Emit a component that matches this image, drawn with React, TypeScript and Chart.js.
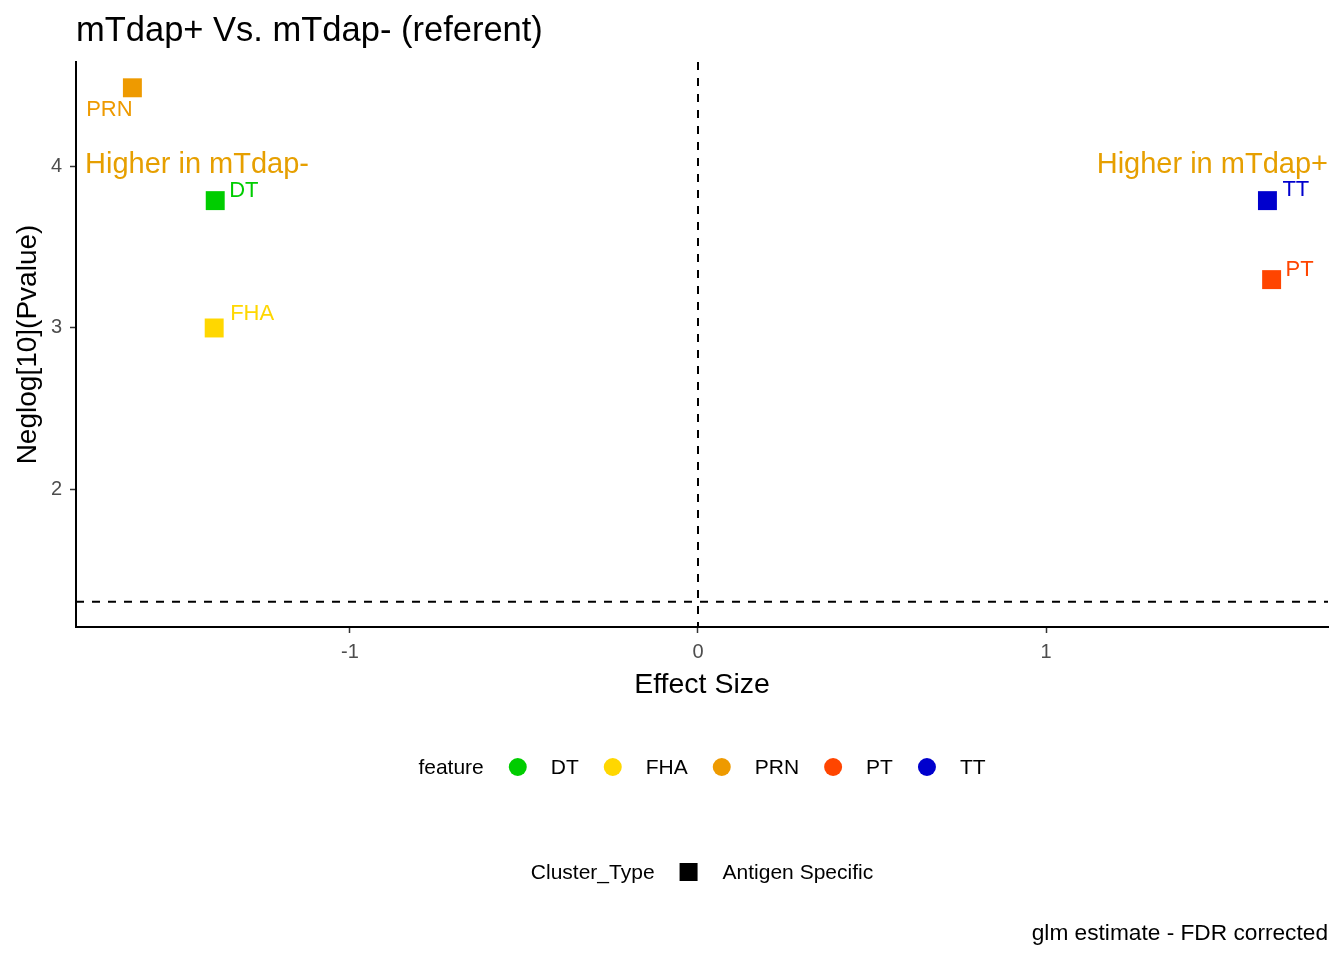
import { useEffect, useRef } from 'react';
import { Chart, registerables } from 'chart.js';
import type { Plugin } from 'chart.js';

Chart.register(...registerables);

// data
const features = ['DT', 'FHA', 'PRN', 'PT', 'TT'];
const effectSize = [-1.387, -1.39, -1.625, 1.648, 1.636];
const negLogP = [3.79, 3.0, 4.49, 3.3, 3.79];
const featureColors = ['#00CD00', '#FFD700', '#EE9A00', '#FF4500', '#0000CD'];
const clusterTypes = ['Antigen Specific'];

const xTicks = [-1, 0, 1];
const yTicks = [2, 3, 4];
const xLimits = [-1.787, 1.81];
const yLimits = [1.145, 4.65];
const pThreshold = 1.301; // -log10(0.05)

const annotationY = 4.01;
const annotationText = ['Higher in mTdap-', 'Higher in mTdap+'];
const titleText = 'mTdap+ Vs. mTdap- (referent)';
const captionText = 'glm estimate - FDR corrected';

// label nudges (px) like ggrepel placed them
const labelNudge: Record<string, [number, number, CanvasTextAlign]> = {
  DT: [14, -10, 'left'],
  FHA: [16, -14, 'left'],
  PRN: [-23, 22, 'center'],
  PT: [14, -10, 'left'],
  TT: [15, -11, 'left'],
};

const FONT = "'Liberation Sans', Arial, sans-serif";
const ANNOT_COLOR = '#E69F00';

const decorations: Plugin<'scatter'> = {
  id: 'decorations',
  beforeDatasetsDraw(chart) {
    const { ctx, chartArea, scales } = chart;
    const x0 = scales.x.getPixelForValue(0);
    const yT = scales.y.getPixelForValue(pThreshold);
    ctx.save();
    ctx.strokeStyle = '#000';
    ctx.lineWidth = 2;
    ctx.setLineDash([8, 8]);
    ctx.beginPath();
    ctx.moveTo(x0, chartArea.top);
    ctx.lineTo(x0, chartArea.bottom);
    ctx.moveTo(chartArea.left, yT);
    ctx.lineTo(chartArea.right, yT);
    ctx.stroke();
    ctx.restore();
  },
  afterDatasetsDraw(chart) {
    const { ctx, chartArea, scales } = chart;
    ctx.save();
    ctx.textBaseline = 'middle';
    ctx.font = `22px ${FONT}`;
    features.forEach((f, i) => {
      const pt = chart.getDatasetMeta(i).data[0];
      const [dx, dy, align] = labelNudge[f];
      ctx.fillStyle = featureColors[i];
      ctx.textAlign = align;
      ctx.fillText(f, pt.x + dx, pt.y + dy);
    });
    const ay = scales.y.getPixelForValue(annotationY);
    ctx.font = `29px ${FONT}`;
    ctx.fillStyle = ANNOT_COLOR;
    ctx.textAlign = 'left';
    ctx.fillText(annotationText[0], chartArea.left + 9, ay);
    ctx.textAlign = 'right';
    ctx.fillText(annotationText[1], chartArea.right, ay);
    ctx.restore();
  },
  afterDraw(chart) {
    const { ctx, chartArea } = chart;
    const mid = (chartArea.left + chartArea.right) / 2;
    ctx.save();

    // title
    ctx.fillStyle = '#000';
    ctx.font = `34.5px ${FONT}`;
    ctx.textAlign = 'left';
    ctx.textBaseline = 'alphabetic';
    ctx.fillText(titleText, chartArea.left, 41);

    // feature legend
    ctx.font = `21px ${FONT}`;
    ctx.textBaseline = 'middle';
    const gap = 34;
    const keyToText = 33;
    let total = ctx.measureText('feature').width;
    features.forEach((f) => {
      total += gap + keyToText + ctx.measureText(f).width;
    });
    let x = mid - total / 2;
    const y1 = 768;
    ctx.fillStyle = '#000';
    ctx.fillText('feature', x, y1);
    x += ctx.measureText('feature').width;
    features.forEach((f, i) => {
      x += gap;
      ctx.fillStyle = featureColors[i];
      ctx.beginPath();
      ctx.arc(x, y1 - 1, 9, 0, Math.PI * 2);
      ctx.fill();
      x += keyToText;
      ctx.fillStyle = '#000';
      ctx.fillText(f, x, y1);
      x += ctx.measureText(f).width;
    });

    // cluster type legend
    const y2 = 873;
    let total2 = ctx.measureText('Cluster_Type').width;
    clusterTypes.forEach((c) => {
      total2 += gap + gap + ctx.measureText(c).width;
    });
    x = mid - total2 / 2;
    ctx.fillText('Cluster_Type', x, y2);
    x += ctx.measureText('Cluster_Type').width;
    clusterTypes.forEach((c) => {
      x += gap;
      ctx.fillRect(x - 9, y2 - 10, 18, 18);
      x += gap;
      ctx.fillText(c, x, y2);
      x += ctx.measureText(c).width;
    });

    // caption
    ctx.font = `22.7px ${FONT}`;
    ctx.textAlign = 'right';
    ctx.fillText(captionText, chartArea.right, 934);
    ctx.restore();
  },
};

export default function App() {
  const canvasRef = useRef<HTMLCanvasElement>(null);

  useEffect(() => {
    if (!canvasRef.current) return;
    Chart.defaults.font.family = FONT;

    const chart = new Chart(canvasRef.current, {
      type: 'scatter',
      data: {
        datasets: features.map((f, i) => ({
          label: f,
          data: [{ x: effectSize[i], y: negLogP[i] }],
          backgroundColor: featureColors[i],
          borderWidth: 0,
          pointStyle: 'rect',
          pointRadius: 13.4,
          pointHoverRadius: 13.4,
        })),
      },
      options: {
        responsive: false,
        animation: false,
        layout: { padding: { top: 62, right: 16, bottom: 258, left: 0 } },
        plugins: {
          legend: { display: false },
          tooltip: { enabled: false },
          title: { display: false },
        },
        scales: {
          x: {
            type: 'linear',
            min: xLimits[0],
            max: xLimits[1],
            afterBuildTicks: (scale) => {
              scale.ticks = xTicks.map((v) => ({ value: v }));
            },
            afterFit: (scale) => {
              scale.height = 75;
            },
            grid: { drawOnChartArea: false, tickLength: 6, tickColor: '#333333', tickWidth: 1.5 },
            border: { color: '#000', width: 2 },
            ticks: { color: '#4D4D4D', font: { size: 20 }, padding: 7 },
            title: {
              display: true,
              text: 'Effect Size',
              color: '#000',
              font: { size: 28.5 },
              padding: { top: 0, bottom: 0 },
            },
          },
          y: {
            type: 'linear',
            min: yLimits[0],
            max: yLimits[1],
            afterBuildTicks: (scale) => {
              scale.ticks = yTicks.map((v) => ({ value: v }));
            },
            afterFit: (scale) => {
              scale.width = 76;
            },
            grid: { drawOnChartArea: false, tickLength: 6, tickColor: '#333333', tickWidth: 1.5 },
            border: { color: '#000', width: 2 },
            ticks: { color: '#4D4D4D', font: { size: 20 }, padding: 8 },
            title: {
              display: true,
              text: 'Neglog[10](Pvalue)',
              color: '#000',
              font: { size: 28 },
              padding: { top: 11, bottom: 0 },
            },
          },
        },
      },
      plugins: [decorations],
    });

    return () => chart.destroy();
  }, []);

  return (
    <div style={{ position: 'absolute', left: 0, top: 0, width: 1344, height: 960, background: '#fff' }}>
      <canvas ref={canvasRef} width={1344} height={960} style={{ width: 1344, height: 960 }} />
    </div>
  );
}
